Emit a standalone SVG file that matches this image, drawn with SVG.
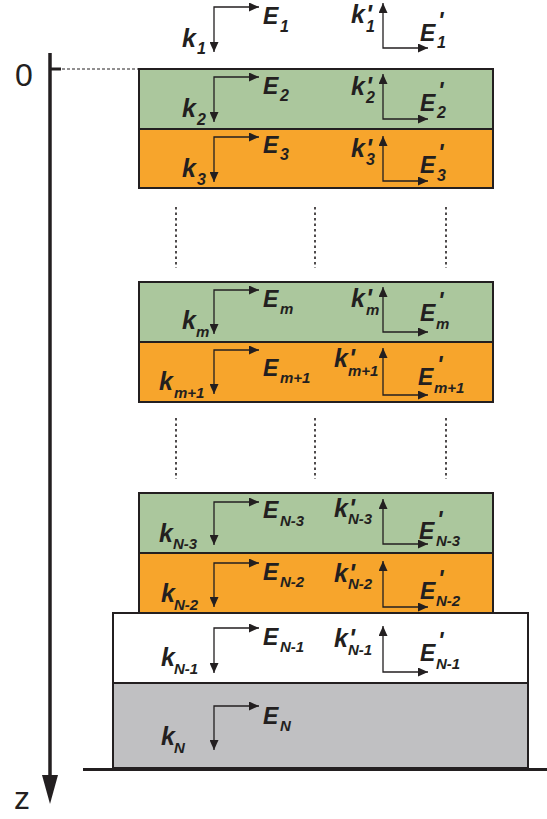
<svg xmlns="http://www.w3.org/2000/svg" width="547" height="819" viewBox="0 0 547 819">
  <defs>
    <marker id="ah" viewBox="0 0 10 9" refX="10" refY="4.5" markerWidth="10" markerHeight="9" markerUnits="userSpaceOnUse" orient="auto-start-reverse">
      <path d="M0,0 L10,4.5 L0,9 Z" fill="#231f20"/>
    </marker>
    <style>
      .lay { stroke: #231f20; stroke-width: 2; }
      .green { fill: #abc79d; }
      .orange { fill: #f7a52c; }
      .white { fill: #ffffff; }
      .gray { fill: #c0c0c2; }
      .arr { fill: none; stroke: #231f20; stroke-width: 1.3; marker-start: url(#ah); marker-end: url(#ah); }
      .dots { stroke: #231f20; stroke-width: 1.6; stroke-dasharray: 2.5 3; }
      .lbl { font-family: "Liberation Sans", Arial, Helvetica, sans-serif; font-weight: bold; font-style: italic; fill: #231f20; }
      .k { font-size: 25px; }
      .E { font-size: 23px; }
      .s { font-size: 15px; }
      .d { font-size: 16px; }
      .ax { font-family: "Liberation Sans", Arial, Helvetica, sans-serif; font-size: 32px; fill: #231f20; }
    </style>
  </defs>

  <!-- depth axis -->
  <g id="axis">
    <line x1="50" y1="53" x2="50" y2="780" stroke="#231f20" stroke-width="3.5"/>
    <polygon points="42,775 58,775 50,804" fill="#231f20"/>
    <line x1="50" y1="69" x2="61" y2="69" stroke="#231f20" stroke-width="3"/>
    <line x1="62" y1="69" x2="139" y2="69" stroke="#231f20" stroke-width="1" stroke-dasharray="3 2"/>
    <text class="ax" x="15" y="86">0</text>
    <text class="ax" x="14" y="809">z</text>
  </g>

  <!-- layer stack -->
  <g id="layer-1"><rect class="lay green" x="139" y="69" width="354" height="60"/></g>
  <g id="layer-2"><rect class="lay orange" x="139" y="129" width="354" height="59"/></g>
  <g id="layer-m"><rect class="lay green" x="139" y="282" width="354" height="60"/></g>
  <g id="layer-m1"><rect class="lay orange" x="139" y="342" width="354" height="60"/></g>
  <g id="layer-n3"><rect class="lay green" x="139" y="493" width="354" height="60"/></g>
  <g id="layer-n2"><rect class="lay orange" x="139" y="553" width="354" height="60"/></g>
  <g id="layer-n1"><rect class="lay white" x="113" y="613" width="415" height="70"/></g>
  <g id="layer-n"><rect class="lay gray" x="113" y="683" width="415" height="85"/></g>
  <line x1="83" y1="769.5" x2="547" y2="769.5" stroke="#231f20" stroke-width="3"/>

  <!-- omitted layers -->
  <g id="gaps">
    <line class="dots" x1="176" y1="207" x2="176" y2="268"/>
    <line class="dots" x1="315" y1="207" x2="315" y2="268"/>
    <line class="dots" x1="446" y1="207" x2="446" y2="268"/>
    <line class="dots" x1="176" y1="418" x2="176" y2="479"/>
    <line class="dots" x1="315" y1="418" x2="315" y2="479"/>
    <line class="dots" x1="446" y1="418" x2="446" y2="479"/>
  </g>

  <!-- wave vectors and fields -->
  <g id="connectors">
    <path class="arr" d="M214,52 V7 H259"/>
    <path class="arr" d="M383,3 V48 H428"/>
    <path class="arr" d="M214,122 V77 H259"/>
    <path class="arr" d="M383,74 V119 H428"/>
    <path class="arr" d="M214,182 V137 H259"/>
    <path class="arr" d="M383,136 V181 H428"/>
    <path class="arr" d="M214,334 V290 H259"/>
    <path class="arr" d="M383,287 V332 H428"/>
    <path class="arr" d="M214,394 V350 H259"/>
    <path class="arr" d="M383,348 V395 H428"/>
    <path class="arr" d="M214,545 V502 H259"/>
    <path class="arr" d="M383,499 V544 H428"/>
    <path class="arr" d="M214,607 V563 H259"/>
    <path class="arr" d="M383,561 V607 H428"/>
    <path class="arr" d="M214,673 V628 H259"/>
    <path class="arr" d="M383,626 V672 H428"/>
    <path class="arr" d="M214,750 V706 H259"/>
  </g>

  <!-- labels -->
  <g id="labels-1" class="lbl">
    <text><tspan class="E" x="263" y="24">E</tspan><tspan class="d" x="280" y="32">1</tspan></text>
    <text><tspan class="k" x="182" y="47">k</tspan><tspan class="d" x="197" y="54">1</tspan></text>
    <text><tspan class="k" x="351" y="23">k</tspan><tspan class="k" x="366" y="23">'</tspan><tspan class="d" x="366" y="32">1</tspan></text>
    <text><tspan class="E" x="420" y="41">E</tspan><tspan class="E" x="438" y="29">'</tspan><tspan class="d" x="437" y="48">1</tspan></text>
  </g>
  <g id="labels-2" class="lbl">
    <text><tspan class="E" x="263" y="94">E</tspan><tspan class="d" x="280" y="101">2</tspan></text>
    <text><tspan class="k" x="182" y="117">k</tspan><tspan class="d" x="197" y="125">2</tspan></text>
    <text><tspan class="k" x="351" y="95">k</tspan><tspan class="k" x="366" y="95">'</tspan><tspan class="d" x="366" y="103">2</tspan></text>
    <text><tspan class="E" x="420" y="111">E</tspan><tspan class="E" x="438" y="99">'</tspan><tspan class="d" x="437" y="118">2</tspan></text>
  </g>
  <g id="labels-3" class="lbl">
    <text><tspan class="E" x="263" y="153">E</tspan><tspan class="d" x="280" y="160">3</tspan></text>
    <text><tspan class="k" x="182" y="177">k</tspan><tspan class="d" x="197" y="185">3</tspan></text>
    <text><tspan class="k" x="351" y="157">k</tspan><tspan class="k" x="366" y="157">'</tspan><tspan class="d" x="366" y="165">3</tspan></text>
    <text><tspan class="E" x="420" y="173">E</tspan><tspan class="E" x="438" y="161">'</tspan><tspan class="d" x="437" y="181">3</tspan></text>
  </g>
  <g id="labels-m" class="lbl">
    <text><tspan class="E" x="263" y="307">E</tspan><tspan class="s" x="280" y="314">m</tspan></text>
    <text><tspan class="k" x="182" y="329">k</tspan><tspan class="s" x="196" y="337">m</tspan></text>
    <text><tspan class="k" x="351" y="307">k</tspan><tspan class="k" x="366" y="307">'</tspan><tspan class="s" x="366" y="315">m</tspan></text>
    <text><tspan class="E" x="420" y="321">E</tspan><tspan class="E" x="438" y="309">'</tspan><tspan class="s" x="436" y="329">m</tspan></text>
  </g>
  <g id="labels-m1" class="lbl">
    <text><tspan class="E" x="263" y="376">E</tspan><tspan class="s" x="280" y="383">m+1</tspan></text>
    <text><tspan class="k" x="159" y="390">k</tspan><tspan class="s" x="174" y="398">m+1</tspan></text>
    <text><tspan class="k" x="334" y="367">k</tspan><tspan class="k" x="349" y="367">'</tspan><tspan class="s" x="348" y="376">m+1</tspan></text>
    <text><tspan class="E" x="418" y="385">E</tspan><tspan class="E" x="437" y="373">'</tspan><tspan class="s" x="434" y="393">m+1</tspan></text>
  </g>
  <g id="labels-n3" class="lbl">
    <text><tspan class="E" x="263" y="518">E</tspan><tspan class="s" x="280" y="526">N-3</tspan></text>
    <text><tspan class="k" x="159" y="542">k</tspan><tspan class="s" x="173" y="549">N-3</tspan></text>
    <text><tspan class="k" x="334" y="517">k</tspan><tspan class="k" x="349" y="517">'</tspan><tspan class="s" x="348" y="524">N-3</tspan></text>
    <text><tspan class="E" x="419" y="539">E</tspan><tspan class="E" x="437" y="528">'</tspan><tspan class="s" x="436" y="546">N-3</tspan></text>
  </g>
  <g id="labels-n2" class="lbl">
    <text><tspan class="E" x="263" y="580">E</tspan><tspan class="s" x="280" y="587">N-2</tspan></text>
    <text><tspan class="k" x="161" y="602">k</tspan><tspan class="s" x="174" y="610">N-2</tspan></text>
    <text><tspan class="k" x="334" y="582">k</tspan><tspan class="k" x="349" y="582">'</tspan><tspan class="s" x="348" y="589">N-2</tspan></text>
    <text><tspan class="E" x="420" y="599">E</tspan><tspan class="E" x="438" y="587">'</tspan><tspan class="s" x="436" y="606">N-2</tspan></text>
  </g>
  <g id="labels-n1" class="lbl">
    <text><tspan class="E" x="263" y="645">E</tspan><tspan class="s" x="280" y="652">N-1</tspan></text>
    <text><tspan class="k" x="161" y="666">k</tspan><tspan class="s" x="174" y="674">N-1</tspan></text>
    <text><tspan class="k" x="334" y="647">k</tspan><tspan class="k" x="349" y="647">'</tspan><tspan class="s" x="348" y="655">N-1</tspan></text>
    <text><tspan class="E" x="420" y="661">E</tspan><tspan class="E" x="438" y="649">'</tspan><tspan class="s" x="436" y="669">N-1</tspan></text>
  </g>
  <g id="labels-n" class="lbl">
    <text><tspan class="E" x="263" y="724">E</tspan><tspan class="s" x="280" y="731">N</tspan></text>
    <text><tspan class="k" x="161" y="745">k</tspan><tspan class="s" x="174" y="753">N</tspan></text>
  </g>
</svg>
